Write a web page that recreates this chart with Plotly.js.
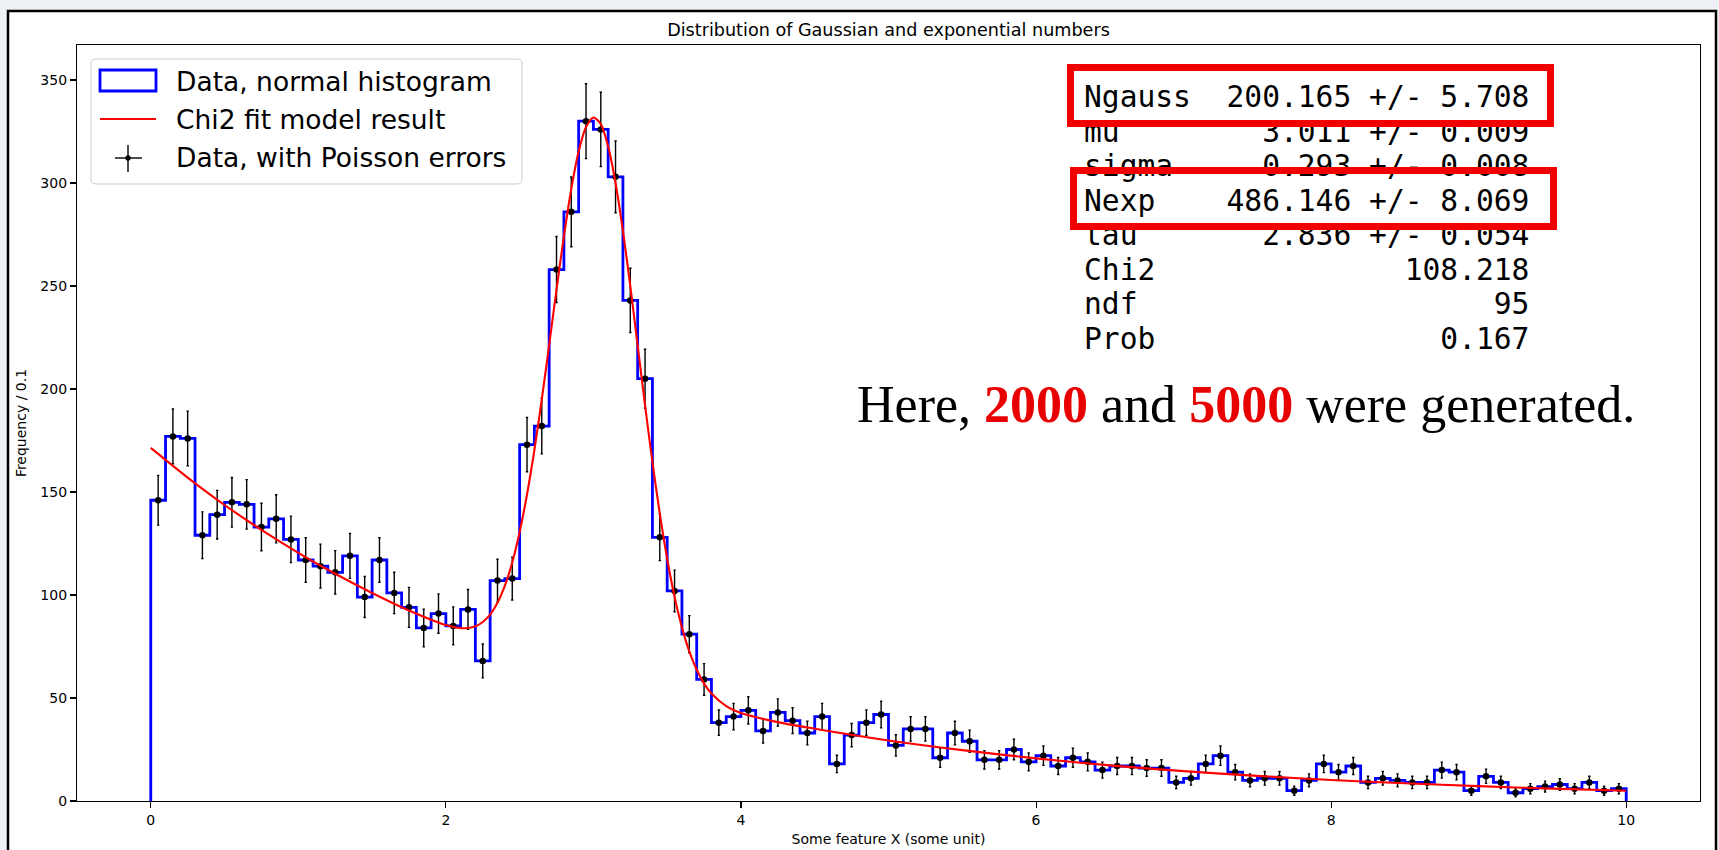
<!DOCTYPE html>
<html>
<head>
<meta charset="utf-8">
<script src="https://cdn.plot.ly/plotly-3.0.1.min.js"></script>
<style>html,body{margin:0;padding:0;background:#eef1f5;overflow:hidden}</style>
</head>
<body>
<div id="chart" style="width:1719px;height:850px"></div>
<script>
// ---------------- data ----------------
const binLow = 0;
const binWidth = 0.1;
const counts = [
  146,177,176,129,139,145,144,133,137,127,
  117,114,111,119, 99,117,101, 94, 84, 91,
   85, 93, 68,107,108,173,182,258,286,330,
  326,303,243,205,128,102, 81, 59, 38, 41,
   44, 34, 43, 39, 33, 41, 18, 32, 38, 42,
   27, 35, 35, 21, 33, 29, 20, 20, 25, 19,
   22, 17, 21, 19, 15, 17, 17, 16, 16,  9,
   11, 18, 22, 14, 10, 11, 11,  5, 10, 18,
   14, 17,  9, 11, 10,  9,  9, 15, 14,  5,
   12,  9,  4,  6,  7,  8,  6,  9,  5,  6
];
const fitX = [0,0.25,0.5,0.75,1,1.25,1.5,1.75,2,2.1,2.15,2.2,2.25,2.3,2.35,2.4,2.45,2.5,2.55,2.6,2.65,2.7,2.75,2.8,2.85,2.9,2.95,3.0,3.05,3.1,3.15,3.2,3.25,3.3,3.35,3.4,3.45,3.5,3.55,3.6,3.65,3.7,3.75,3.8,3.9,4,4.25,4.5,5,5.5,6,6.5,7,7.5,8,8.5,9,9.5,10];
const fitY = [171.4,157.0,143.7,131.6,120.5,110.3,101.0,92.5,85.4,83.9,84.0,84.8,86.9,90.5,96.2,104.5,115.8,130.6,148.8,170.4,194.9,221.3,248.3,274.1,297.1,315.3,327.2,331.8,328.6,317.7,300.0,276.8,249.9,221.1,192.1,164.6,139.5,117.6,99.2,84.3,72.6,63.7,57.0,52.2,46.1,42.7,38.3,35.1,29.4,24.7,20.7,17.3,14.5,12.2,10.2,8.6,7.2,6.0,5.0];
const xTicks = [0,2,4,6,8,10];
const yTicks = [0,50,100,150,200,250,300,350];
const legendLabels = ['Data, normal histogram','Chi2 fit model result','Data, with Poisson errors'];
const statNames  = ['Ngauss','mu','sigma','Nexp','tau','Chi2','ndf','Prob'];
const statValues = ['200.165','3.011','0.293','486.146','2.836','108.218','95','0.167'];
const statErrors = ['5.708','0.009','0.008','8.069','0.054',null,null,null];
const boxedRows = [0,3];
const generated = ['2000','5000'];

// ---------------- geometry ----------------
const W = 1719, H = 850;
const M = {l:77, r:19, t:45, b:49};
const PW = W - M.l - M.r, PH = H - M.t - M.b;
const px = v => (v - M.l) / PW;
const py = v => (H - M.b - v) / PH;

// ---------------- traces ----------------
const stepX = [binLow], stepY = [0];
counts.forEach((c, i) => {
  const a = binLow + i * binWidth;
  stepX.push(a, a + binWidth);
  stepY.push(c, c);
});
stepX.push(binLow + counts.length * binWidth); stepY.push(0);
const centers = counts.map((c, i) => binLow + (i + 0.5) * binWidth);

const traces = [
  {type:'scatter', mode:'lines', x:stepX, y:stepY, name:legendLabels[0],
   line:{color:'#0000ff', width:2.8}, hoverinfo:'skip', cliponaxis:true},
  {type:'scatter', mode:'markers', x:centers, y:counts, name:legendLabels[2],
   marker:{color:'#000', size:6.5},
   error_y:{type:'data', array:counts.map(Math.sqrt), color:'#000', thickness:1.4, width:1.2}},
  {type:'scatter', mode:'lines', x:fitX, y:fitY, name:legendLabels[1],
   line:{color:'#ff0000', width:2.1, shape:'spline', smoothing:0.8}}
];

// ---------------- shapes / annotations ----------------
function roundRect(x0, y0, x1, y1, r) {
  const X = v => px(v).toFixed(6), Y = v => py(v).toFixed(6);
  return `M${X(x0+r)},${Y(y0)} L${X(x1-r)},${Y(y0)} Q${X(x1)},${Y(y0)} ${X(x1)},${Y(y0+r)} ` +
         `L${X(x1)},${Y(y1-r)} Q${X(x1)},${Y(y1)} ${X(x1-r)},${Y(y1)} ` +
         `L${X(x0+r)},${Y(y1)} Q${X(x0)},${Y(y1)} ${X(x0)},${Y(y1-r)} ` +
         `L${X(x0)},${Y(y0+r)} Q${X(x0)},${Y(y0)} ${X(x0+r)},${Y(y0)} Z`;
}
const shapes = [
  // slide frame
  {type:'rect', xref:'paper', yref:'paper', x0:px(8), x1:px(1716), y0:py(11), y1:py(860),
   line:{color:'#000', width:2.5}, fillcolor:'#ffffff', layer:'below'},
  // legend box
  {type:'path', xref:'paper', yref:'paper', path:roundRect(91, 59, 522, 184, 5),
   line:{color:'#cccccc', width:1}, fillcolor:'rgba(255,255,255,0.8)', layer:'above'},
  // legend handle: histogram patch
  {type:'rect', xref:'paper', yref:'paper', x0:px(100), x1:px(156), y0:py(70), y1:py(91),
   line:{color:'#0000ff', width:2.8}, fillcolor:'rgba(0,0,0,0)', layer:'above'},
  // legend handle: fit line
  {type:'line', xref:'paper', yref:'paper', x0:px(100), x1:px(156), y0:py(119), y1:py(119),
   line:{color:'#ff0000', width:2.1}, layer:'above'},
  // legend handle: errorbar
  {type:'line', xref:'paper', yref:'paper', x0:px(115), x1:px(142), y0:py(158), y1:py(158),
   line:{color:'#000', width:1.4}, layer:'above'},
  {type:'line', xref:'paper', yref:'paper', x0:px(128), x1:px(128), y0:py(145), y1:py(172),
   line:{color:'#000', width:1.4}, layer:'above'},
  {type:'circle', xref:'paper', yref:'paper', x0:px(125.5), x1:px(130.5), y0:py(155.5), y1:py(160.5),
   line:{color:'#000', width:0.5}, fillcolor:'#000', layer:'above'}
];

const annotations = [];
const legendY = [81, 119, 158];
legendLabels.forEach((t, i) => annotations.push({
  xref:'paper', yref:'paper', x:px(174), y:py(legendY[i]), xanchor:'left', yanchor:'middle',
  text:t, showarrow:false, font:{family:'DejaVu Sans', size:26.5, color:'#000'}
}));

const NB = '\u00A0';
const rowY0 = 97, rowStep = 34.5;
statNames.forEach((n, i) => {
  const right = statErrors[i] ? `${statValues[i]}${NB}+/-${NB}${statErrors[i]}` : statValues[i];
  const pad = 25 - n.length - right.length;
  annotations.push({
    xref:'paper', yref:'paper', x:px(1082), y:py(rowY0 + i*rowStep), xanchor:'left', yanchor:'middle',
    text: n + NB.repeat(pad) + right, showarrow:false,
    font:{family:'DejaVu Sans Mono', size:29.6, color:'#000'}
  });
});
const boxTop = [64, 167], boxLeft = [1067, 1070];
boxedRows.forEach((r, k) => annotations.push({
  xref:'paper', yref:'paper', x:px(boxLeft[k]), y:py(boxTop[k]), xanchor:'left', yanchor:'top',
  text:NB, showarrow:false, width:473, height:49, borderwidth:7, borderpad:0,
  bordercolor:'#f00000', bgcolor:'rgba(0,0,0,0)', font:{size:10}
}));
annotations.push({
  xref:'paper', yref:'paper', x:px(1246), y:py(404), xanchor:'center', yanchor:'middle',
  text:`Here, <span style="color:#e80000"><b>${generated[0]}</b></span> and <span style="color:#e80000"><b>${generated[1]}</b></span> were generated.`,
  showarrow:false, font:{family:'Liberation Serif', size:52, color:'#000'}
});

const axisCommon = {
  showline:true, linecolor:'#000', linewidth:1.1, mirror:true, showgrid:false, zeroline:false,
  ticks:'outside', ticklen:6, tickwidth:1.1, tickcolor:'#000',
  tickfont:{family:'DejaVu Sans', size:14, color:'#000'}
};
const layout = {
  width:W, height:H, margin:M, showlegend:false,
  paper_bgcolor:'#eef1f5', plot_bgcolor:'#ffffff',
  title:{text:'Distribution of Gaussian and exponential numbers', x:0.5, xref:'paper',
         y:1 - 30/H, yref:'container', yanchor:'middle',
         font:{family:'DejaVu Sans', size:17.6, color:'#000'}},
  xaxis:Object.assign({}, axisCommon, {range:[-0.5,10.5], tickvals:xTicks,
         title:{text:'Some feature X (some unit)', font:{family:'DejaVu Sans', size:14, color:'#000'}, standoff:7}}),
  yaxis:Object.assign({}, axisCommon, {range:[0,367], tickvals:yTicks,
         title:{text:'Frequency / 0.1', font:{family:'DejaVu Sans', size:14, color:'#000'}, standoff:10}}),
  shapes:shapes, annotations:annotations
};
Plotly.newPlot('chart', traces, layout, {displayModeBar:false, staticPlot:true});
</script>
</body>
</html>
